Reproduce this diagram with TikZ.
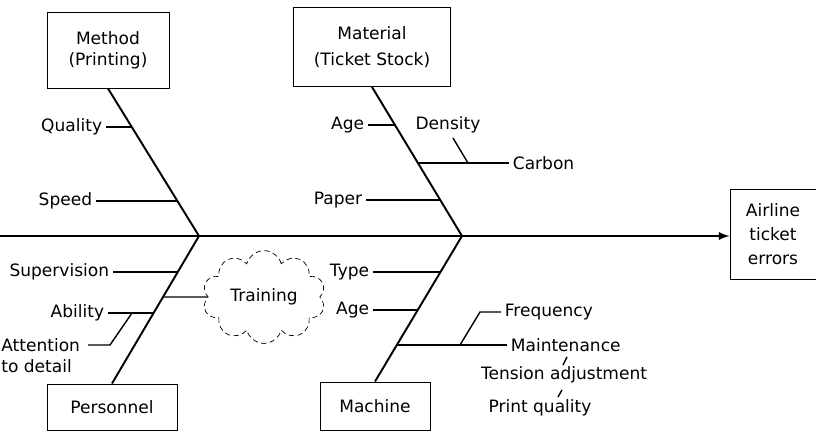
\documentclass[tikz,border=0pt]{standalone}
\usepackage{fontspec}
\setmainfont{DejaVu Sans}
\usetikzlibrary{shapes.symbols}

\begin{document}
\begin{tikzpicture}[x=0.02cm, y=-0.02cm,
        font=\fontsize{9.7}{12}\selectfont,
        box/.style={draw, line width=0.55pt, align=center, inner sep=0pt},
        lbl/.style={inner sep=2pt},
        bone/.style={line width=1.1pt},
        twig/.style={line width=0.8pt}]
        \useasboundingbox (0,0) rectangle (816,433);

        % spine and effect
        \coordinate (tail) at (0,236);
        \coordinate (jA) at (199,236);
        \coordinate (jB) at (462,236);
        \node[box, minimum width=1.72cm, minimum height=1.8cm] (result) at (773,234) {Airline\\[1.5pt]ticket\\[1.5pt]errors};
        \draw[bone, -latex] (tail) -- (tail -| result.west);

        % cause boxes
        \node[box, minimum width=2.44cm, minimum height=1.52cm] (method) at (108,50) {Method\\(Printing)};
        \node[box, minimum width=3.14cm, minimum height=1.58cm] (material) at (372,47) {Material\\[3pt](Ticket Stock)};
        \node[box, minimum width=2.6cm, minimum height=0.92cm] (personnel) at (112,407) {Personnel};
        \node[box, minimum width=2.2cm, minimum height=0.96cm] (machine) at (375,406) {Machine};

        \draw[bone] (method.south) -- (jA);
        \draw[bone] (material.south) -- (jB);
        \draw[bone] (personnel.north) -- (jA);
        \draw[bone] (machine.north) -- (jB);

        % method
        \node[lbl, anchor=east] (quality) at (106,127) {Quality};
        \node[lbl, anchor=east] (speed) at (96,201) {Speed};
        \coordinate (mq) at (132,127);
        \coordinate (ms) at (177.5,201);
        \draw[twig] (quality.east) -- (mq);
        \draw[twig] (speed.east) -- (ms);

        % material
        \node[lbl, anchor=east] (ageA) at (368,125) {Age};
        \node[lbl, anchor=east] (paper) at (366,200) {Paper};
        \node[lbl, anchor=west] (carbon) at (509,163) {Carbon};
        \node[lbl] (density) at (448,125) {Density};
        \coordinate (ta) at (395,125);
        \coordinate (tp) at (440,200);
        \coordinate (tc) at (418,163);
        \coordinate (d0) at (453,138);
        \coordinate (d1) at (468,163);
        \draw[twig] (ageA.east) -- (ta);
        \draw[twig] (paper.east) -- (tp);
        \draw[twig] (tc) -- (carbon.west);
        \draw[twig] (d0) -- (d1);

        % personnel
        \node[lbl, anchor=east] (supervision) at (113,272) {Supervision};
        \node[lbl, anchor=east] (ability) at (108,313) {Ability};
        \node[inner sep=0pt, anchor=north west, align=left] (attention) at (1,338) {Attention\\to detail};
        \node[cloud, draw, densely dashed, line width=0.4pt, cloud puffs=10, aspect=1.6,
              minimum width=2.36cm, minimum height=1.44cm] (training) at (264,297) {Training};
        \coordinate (ps) at (177.8,272);
        \coordinate (pt) at (163,297);
        \coordinate (pa) at (153.7,313);
        \coordinate (at0) at (88,345);
        \coordinate (at1) at (110,345);
        \coordinate (at2) at (132,313);
        \draw[twig] (supervision.east) -- (ps);
        \draw[twig] (ability.east) -- (pa);
        \draw[twig] (pt) -- (training.west);
        \draw[twig] (at0) -- (at1) -- (at2);

        % machine
        \node[lbl, anchor=east] (type) at (373,272) {Type};
        \node[lbl, anchor=east] (ageB) at (373,310) {Age};
        \node[lbl, anchor=west] (maintenance) at (507,345) {Maintenance};
        \node[lbl, anchor=west] (frequency) at (501,312) {Frequency};
        \node[lbl] (tension) at (564,375) {Tension adjustment};
        \node[lbl] (print) at (540,408) {Print quality};
        \coordinate (mt) at (440.5,272);
        \coordinate (mg) at (418,310);
        \coordinate (mm) at (397,345);
        \coordinate (f0) at (460,345);
        \coordinate (f1) at (480,312);
        \coordinate (k0) at (563,365);
        \coordinate (k1) at (567,357);
        \coordinate (k2) at (558,397);
        \coordinate (k3) at (562,390);
        \draw[twig] (type.east) -- (mt);
        \draw[twig] (ageB.east) -- (mg);
        \draw[twig] (mm) -- (maintenance.west);
        \draw[twig] (f0) -- (f1) -- (frequency.west);
        \draw[twig] (k0) -- (k1);
        \draw[twig] (k2) -- (k3);
    \end{tikzpicture}
\end{document}
